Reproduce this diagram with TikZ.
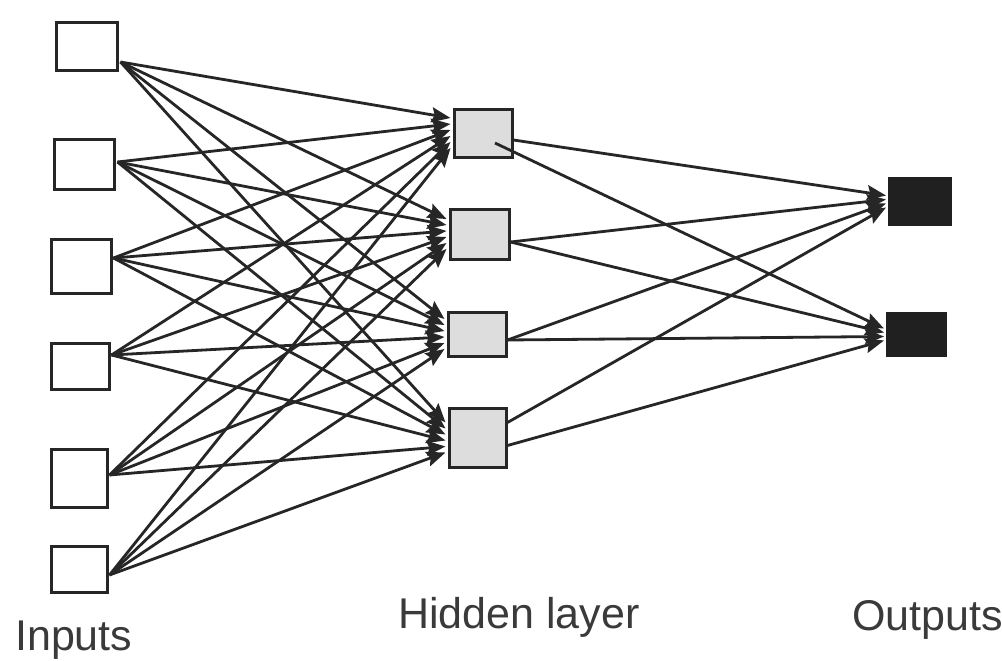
\documentclass[tikz,border=0pt]{standalone}
\usepackage{fontspec}
\setmainfont{Liberation Sans}
\usetikzlibrary{arrows.meta,calc}
\definecolor{linecol}{HTML}{262626}
\definecolor{hidfill}{HTML}{DDDDDD}
\definecolor{outfill}{HTML}{202020}
\definecolor{txtcol}{HTML}{3A3A3A}
\begin{document}
\begin{tikzpicture}[x=1pt,y=-1pt,
  inbox/.style={draw=linecol,line width=3pt,fill=white,inner sep=0pt},
  hidbox/.style={draw=linecol,line width=3pt,fill=hidfill,inner sep=0pt},
  outbox/.style={draw=outfill,line width=1pt,fill=outfill,inner sep=0pt},
  conn/.style={draw=linecol,line width=2.8pt,-{Stealth[length=19pt,width=15pt,inset=3pt]}},
  lbl/.style={anchor=base west,inner sep=0pt,text=txtcol,font=\fontsize{43pt}{43pt}\selectfont}]
\useasboundingbox (0,0) rectangle (1002,661);
\fill[white] (0,0) rectangle (1002,661);
% input layer
\node[inbox,minimum width=61pt,minimum height=48pt] (i1) at (86.5,47) {};
\node[inbox,minimum width=60pt,minimum height=50pt] (i2) at (84,164) {};
\node[inbox,minimum width=60pt,minimum height=54pt] (i3) at (81,266) {};
\node[inbox,minimum width=58pt,minimum height=46pt] (i4) at (80,366) {};
\node[inbox,minimum width=56pt,minimum height=58pt] (i5) at (79,478) {};
\node[inbox,minimum width=56pt,minimum height=46pt] (i6) at (79,569) {};
% hidden layer
\node[hidbox,minimum width=58pt,minimum height=48pt] (h1) at (483,133) {};
\node[hidbox,minimum width=59pt,minimum height=50pt] (h2) at (479.5,234) {};
\node[hidbox,minimum width=58pt,minimum height=44pt] (h3) at (477,334) {};
\node[hidbox,minimum width=57pt,minimum height=59pt] (h4) at (477.5,437.5) {};
% outputs
\node[outbox,minimum width=63pt,minimum height=48pt] (o1) at (920,201.5) {};
\node[outbox,minimum width=60pt,minimum height=44pt] (o2) at (916.5,334.5) {};
% source points on the input boxes
\coordinate (s1) at ($(i1.east)+(2,15)$);
\coordinate (s2) at ($(i2.east)+(2,-2)$);
\coordinate (s3) at ($(i3.east)+(1,-8)$);
\coordinate (s4) at ($(i4.east)+(1,-11)$);
\coordinate (s5) at ($(i5.east)+(1,-3)$);
\coordinate (s6) at ($(i6.east)+(1,6)$);
% input -> hidden
\foreach \i in {1,...,6}{
  \foreach \j in {1,...,4}{
    \draw[conn] (s\i) -- ($(h\j.west)+(-2,{(\i-3.5)*6})$);
  }
}
% hidden -> output sources
\coordinate (t11) at ($(h1.east)+(0,7)$);
\coordinate (t12) at ($(h1.center)+(12,10)$);
\coordinate (t21) at ($(h2.east)+(0,8)$);
\coordinate (t22) at ($(h2.east)+(0,8)$);
\coordinate (t31) at ($(h3.east)+(0,6)$);
\coordinate (t32) at ($(h3.east)+(0,6)$);
\coordinate (t41) at ($(h4.east)+(0,-15)$);
\coordinate (t42) at ($(h4.east)+(0,8)$);
\foreach \j in {1,...,4}{
  \draw[conn] (t\j1) -- ($(o1.west)+(-2,{(\j-2.5)*4})$);
  \draw[conn] (t\j2) -- ($(o2.west)+(-2,{(\j-2.5)*4})$);
}
% labels
\node[lbl] (lin) at (15,650) {Inputs};
\node[lbl] (lhid) at (398,628) {Hidden layer};
\node[lbl] (lout) at (852,630) {Outputs};
\end{tikzpicture}
\end{document}
